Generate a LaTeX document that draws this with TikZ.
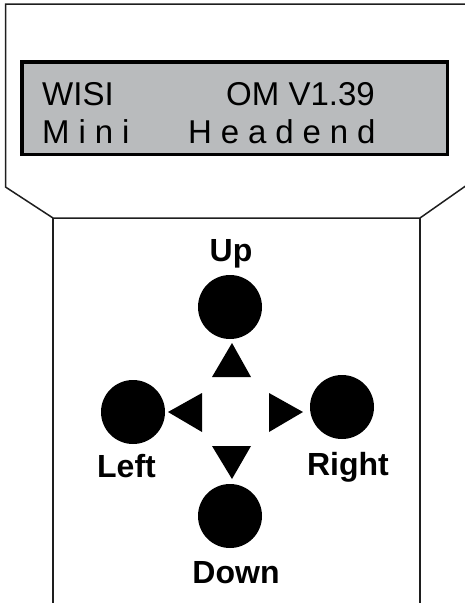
\documentclass[tikz,border=0pt]{standalone}
\usepackage{fontspec}
\setmainfont{Liberation Sans}
\newfontfamily\spacedfont[LetterSpace=27]{Liberation Sans}
\definecolor{lcdgray}{RGB}{185,187,189}
\definecolor{framegray}{RGB}{30,30,30}
\begin{document}
\begin{tikzpicture}[x=1pt,y=-1pt,
  frame/.style={draw=framegray,line width=1.5pt},
  btn/.style={circle,fill=black,minimum size=64pt,inner sep=0pt},
  arrowtri/.style={fill=black},
  lbl/.style={font=\fontsize{32}{38}\selectfont\bfseries,anchor=base,inner sep=0pt},
  lcdtxt/.style={font=\fontsize{33}{39}\selectfont,anchor=base west,inner sep=0pt}]
\useasboundingbox (0,0) rectangle (465,603);
\clip (0,0) rectangle (465,603);
% housing
\draw[frame] (470,4) -- (5.5,4) -- (5.5,187) -- (53,218) -- (420,218) -- (467,185) -- (467,4);
\draw[frame] (53,218) -- (53,610);
\draw[frame] (420,218) -- (420,610);
% LCD
\draw[fill=lcdgray,draw=black,line width=3.5pt] (21.75,61.75) rectangle (447.25,154.25);
\node[lcdtxt] (t1) at (42,105) {WISI};
\node[lcdtxt] (t2) at (226,105) {OM V1.39};
\node[lcdtxt] (t3) at (42,143) {\spacedfont Mini};
\node[lcdtxt] (t4) at (188,143) {\spacedfont Headend};
% buttons
\node[btn] (up) at (230,307) {};
\node[btn] (left) at (133,412) {};
\node[btn] (right) at (342,407) {};
\node[btn] (down) at (230,516) {};
% arrows
\fill[arrowtri] (232,343) -- (212,377) -- (251,377) -- cycle;
\fill[arrowtri] (212,446) -- (251,446) -- (232,479) -- cycle;
\fill[arrowtri] (168,412) -- (202,393) -- (202,432) -- cycle;
\fill[arrowtri] (269,393) -- (269,432) -- (303,412) -- cycle;
% labels
\node[lbl] (lup) at (231,261) {Up};
\node[lbl] (lleft) at (126.5,477) {Left};
\node[lbl] (lright) at (348,475) {Right};
\node[lbl] (ldown) at (236,583) {Down};
\end{tikzpicture}
\end{document}
